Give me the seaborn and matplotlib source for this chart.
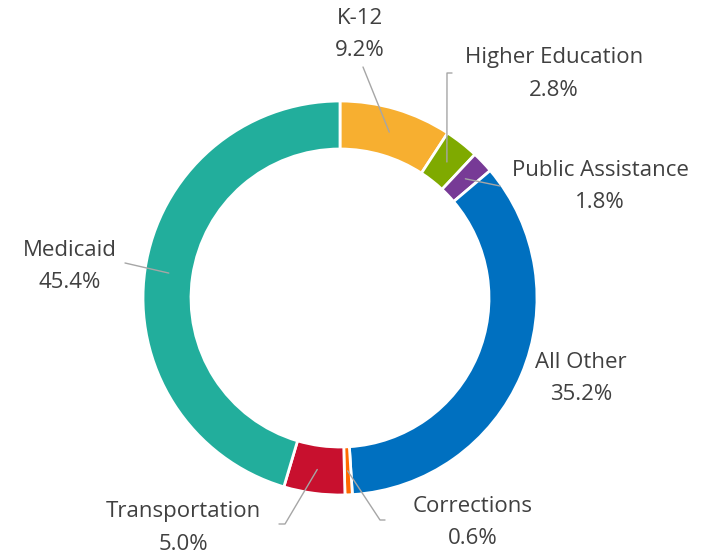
import numpy as np
import matplotlib.pyplot as plt
import seaborn as sns

categories = ['K-12', 'Higher Education', 'Public Assistance', 'All Other',
              'Corrections', 'Transportation', 'Medicaid']
shares = [9.2, 2.8, 1.8, 35.2, 0.6, 5.0, 45.4]
colors = ['#F7AF30', '#7FAA00', '#773A96', '#0070C0', '#FF6A00', '#C8102E', '#22AE9C']

# label layout (pixel positions, y measured from top) and leader elbows
label_pos = {
    'K-12': (360, 18),
    'Higher Education': (554, 58),
    'Public Assistance': (600, 170),
    'All Other': (581, 362),
    'Corrections': (473, 507),
    'Transportation': (183, 512),
    'Medicaid': (70, 250),
}
leader_pts = {
    'K-12': [(363, 67)],
    'Higher Education': [(447, 73), (452, 73)],
    'Public Assistance': [(500, 186)],
    'All Other': None,
    'Corrections': [(380, 520), (385, 520)],
    'Transportation': [(285, 524), (279, 524)],
    'Medicaid': [(125, 263)],
}

sns.set_theme(style='white')
plt.rcParams['font.family'] = ['Open Sans', 'DejaVu Sans']

W, H = 701, 557
fig = plt.figure(figsize=(W / 100, H / 100), dpi=100)
ax = fig.add_axes([0, 0, 1, 1])

cx, cy, R, width = 340, 298, 197, 48
# y axis is inverted, so counterclock=True draws clockwise on screen
wedges, _ = ax.pie(shares, colors=colors, startangle=-90, counterclock=True,
                   center=(cx, cy), radius=R, frame=True,
                   wedgeprops=dict(width=width, edgecolor='white', linewidth=2))
ax.set_xlim(0, W)
ax.set_ylim(H, 0)
ax.axis('off')

text_color = '#404040'
for w, name, val in zip(wedges, categories, shares):
    ang = np.deg2rad((w.theta1 + w.theta2) / 2)
    rm = R - width / 2
    ax_pt = (cx + rm * np.cos(ang), cy + rm * np.sin(ang))
    if leader_pts[name]:
        pts = [ax_pt] + leader_pts[name]
        xs, ys = zip(*pts)
        ax.plot(xs, ys, color='#A6A6A6', lw=1, zorder=3)
    lx, ly = label_pos[name]
    ax.text(lx, ly, name, ha='center', va='center', fontsize=16, color=text_color)
    ax.text(lx, ly + 32, f'{val:.1f}%', ha='center', va='center', fontsize=16,
            color=text_color)

fig.savefig('out.png', dpi=100)
